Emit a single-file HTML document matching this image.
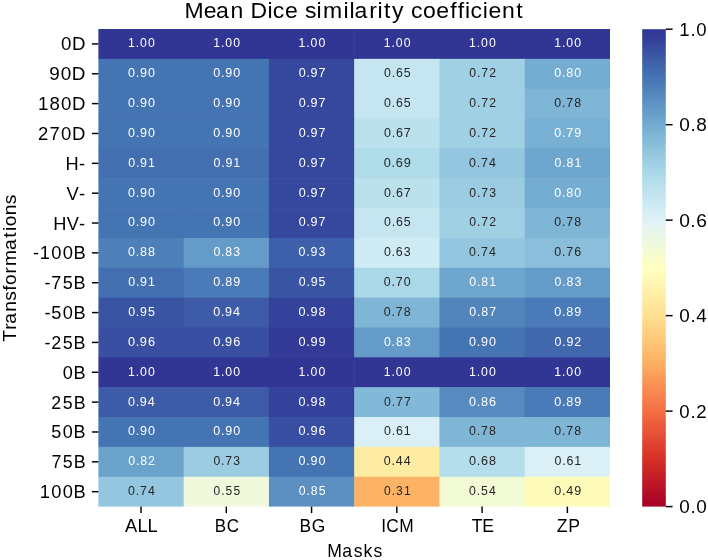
<!DOCTYPE html>
<html><head><meta charset="utf-8"><title>Mean Dice similarity coefficient</title>
<style>
html,body{margin:0;padding:0;background:#fff;}
body{width:708px;height:560px;overflow:hidden;}
svg{display:block;will-change:transform;}
text{font-family:"Liberation Sans",sans-serif;font-kerning:none;font-variant-ligatures:none;white-space:pre;}
</style></head><body>
<svg width="708" height="560" viewBox="0 0 708 560">
<defs><linearGradient id="cb" x1="0" y1="0" x2="0" y2="1"><stop offset="0.0000" stop-color="#313695"/><stop offset="0.0156" stop-color="#333d99"/><stop offset="0.0312" stop-color="#36479e"/><stop offset="0.0469" stop-color="#3a51a2"/><stop offset="0.0625" stop-color="#3d5ba7"/><stop offset="0.0781" stop-color="#4065ac"/><stop offset="0.0938" stop-color="#436fb1"/><stop offset="0.1094" stop-color="#4878b6"/><stop offset="0.1250" stop-color="#4f81ba"/><stop offset="0.1406" stop-color="#578abf"/><stop offset="0.1562" stop-color="#5e93c3"/><stop offset="0.1719" stop-color="#659bc8"/><stop offset="0.1875" stop-color="#6da4cc"/><stop offset="0.2031" stop-color="#74add1"/><stop offset="0.2188" stop-color="#7db4d5"/><stop offset="0.2344" stop-color="#85bbd9"/><stop offset="0.2500" stop-color="#8ec2dc"/><stop offset="0.2656" stop-color="#97c9e0"/><stop offset="0.2812" stop-color="#9fd0e4"/><stop offset="0.2969" stop-color="#a8d6e8"/><stop offset="0.3125" stop-color="#b0dcea"/><stop offset="0.3281" stop-color="#b9e0ed"/><stop offset="0.3438" stop-color="#c1e4ef"/><stop offset="0.3594" stop-color="#c9e8f2"/><stop offset="0.3750" stop-color="#d1ecf4"/><stop offset="0.3906" stop-color="#daf0f6"/><stop offset="0.4062" stop-color="#e1f3f6"/><stop offset="0.4219" stop-color="#e6f5ed"/><stop offset="0.4375" stop-color="#ebf7e4"/><stop offset="0.4531" stop-color="#f0f9db"/><stop offset="0.4688" stop-color="#f5fbd2"/><stop offset="0.4844" stop-color="#fafdc9"/><stop offset="0.5000" stop-color="#feffc0"/><stop offset="0.5156" stop-color="#fffbb9"/><stop offset="0.5312" stop-color="#fff6b1"/><stop offset="0.5469" stop-color="#fff1aa"/><stop offset="0.5625" stop-color="#feeca2"/><stop offset="0.5781" stop-color="#fee79b"/><stop offset="0.5938" stop-color="#fee294"/><stop offset="0.6094" stop-color="#fedc8c"/><stop offset="0.6250" stop-color="#fed485"/><stop offset="0.6406" stop-color="#fecc7e"/><stop offset="0.6562" stop-color="#fdc576"/><stop offset="0.6719" stop-color="#fdbd6f"/><stop offset="0.6875" stop-color="#fdb567"/><stop offset="0.7031" stop-color="#fdad60"/><stop offset="0.7188" stop-color="#fba35c"/><stop offset="0.7344" stop-color="#fa9857"/><stop offset="0.7500" stop-color="#f98e52"/><stop offset="0.7656" stop-color="#f7844e"/><stop offset="0.7812" stop-color="#f67a49"/><stop offset="0.7969" stop-color="#f47044"/><stop offset="0.8125" stop-color="#f16640"/><stop offset="0.8281" stop-color="#ec5c3b"/><stop offset="0.8438" stop-color="#e75337"/><stop offset="0.8594" stop-color="#e34933"/><stop offset="0.8750" stop-color="#de402e"/><stop offset="0.8906" stop-color="#da362a"/><stop offset="0.9062" stop-color="#d42d27"/><stop offset="0.9219" stop-color="#cc2627"/><stop offset="0.9375" stop-color="#c41e27"/><stop offset="0.9531" stop-color="#bd1726"/><stop offset="0.9688" stop-color="#b50f26"/><stop offset="0.9844" stop-color="#ad0826"/><stop offset="1.0000" stop-color="#a50026"/></linearGradient></defs>
<rect x="0" y="0" width="708" height="560" fill="#fff"/>
<g>
<g><rect x="98.40" y="29.00" width="85.87" height="30.45" fill="#313695"/><rect x="183.67" y="29.00" width="85.87" height="30.45" fill="#313695"/><rect x="268.93" y="29.00" width="85.87" height="30.45" fill="#313695"/><rect x="354.20" y="29.00" width="85.87" height="30.45" fill="#313695"/><rect x="439.47" y="29.00" width="85.87" height="30.45" fill="#313695"/><rect x="524.73" y="29.00" width="85.27" height="30.45" fill="#313695"/><rect x="98.40" y="58.85" width="85.87" height="30.45" fill="#4574b3"/><rect x="183.67" y="58.85" width="85.87" height="30.45" fill="#4574b3"/><rect x="268.93" y="58.85" width="85.87" height="30.45" fill="#36479e"/><rect x="354.20" y="58.85" width="85.87" height="30.45" fill="#c5e6f0"/><rect x="439.47" y="58.85" width="85.87" height="30.45" fill="#9fd0e4"/><rect x="524.73" y="58.85" width="85.27" height="30.45" fill="#74add1"/><rect x="98.40" y="88.70" width="85.87" height="30.45" fill="#4574b3"/><rect x="183.67" y="88.70" width="85.87" height="30.45" fill="#4574b3"/><rect x="268.93" y="88.70" width="85.87" height="30.45" fill="#36479e"/><rect x="354.20" y="88.70" width="85.87" height="30.45" fill="#c5e6f0"/><rect x="439.47" y="88.70" width="85.87" height="30.45" fill="#9fd0e4"/><rect x="524.73" y="88.70" width="85.27" height="30.45" fill="#7fb6d6"/><rect x="98.40" y="118.55" width="85.87" height="30.45" fill="#4574b3"/><rect x="183.67" y="118.55" width="85.87" height="30.45" fill="#4574b3"/><rect x="268.93" y="118.55" width="85.87" height="30.45" fill="#36479e"/><rect x="354.20" y="118.55" width="85.87" height="30.45" fill="#bbe1ed"/><rect x="439.47" y="118.55" width="85.87" height="30.45" fill="#9fd0e4"/><rect x="524.73" y="118.55" width="85.27" height="30.45" fill="#78b0d3"/><rect x="98.40" y="148.40" width="85.87" height="30.45" fill="#436fb1"/><rect x="183.67" y="148.40" width="85.87" height="30.45" fill="#436fb1"/><rect x="268.93" y="148.40" width="85.87" height="30.45" fill="#36479e"/><rect x="354.20" y="148.40" width="85.87" height="30.45" fill="#b0dcea"/><rect x="439.47" y="148.40" width="85.87" height="30.45" fill="#94c7df"/><rect x="524.73" y="148.40" width="85.27" height="30.45" fill="#6ea6ce"/><rect x="98.40" y="178.25" width="85.87" height="30.45" fill="#4574b3"/><rect x="183.67" y="178.25" width="85.87" height="30.45" fill="#4574b3"/><rect x="268.93" y="178.25" width="85.87" height="30.45" fill="#36479e"/><rect x="354.20" y="178.25" width="85.87" height="30.45" fill="#bbe1ed"/><rect x="439.47" y="178.25" width="85.87" height="30.45" fill="#9bcce2"/><rect x="524.73" y="178.25" width="85.27" height="30.45" fill="#74add1"/><rect x="98.40" y="208.10" width="85.87" height="30.45" fill="#4574b3"/><rect x="183.67" y="208.10" width="85.87" height="30.45" fill="#4574b3"/><rect x="268.93" y="208.10" width="85.87" height="30.45" fill="#36479e"/><rect x="354.20" y="208.10" width="85.87" height="30.45" fill="#c5e6f0"/><rect x="439.47" y="208.10" width="85.87" height="30.45" fill="#9fd0e4"/><rect x="524.73" y="208.10" width="85.27" height="30.45" fill="#7fb6d6"/><rect x="98.40" y="237.95" width="85.87" height="30.45" fill="#4d7fb9"/><rect x="183.67" y="237.95" width="85.87" height="30.45" fill="#659bc8"/><rect x="268.93" y="237.95" width="85.87" height="30.45" fill="#3e60aa"/><rect x="354.20" y="237.95" width="85.87" height="30.45" fill="#cfebf3"/><rect x="439.47" y="237.95" width="85.87" height="30.45" fill="#94c7df"/><rect x="524.73" y="237.95" width="85.27" height="30.45" fill="#8abeda"/><rect x="98.40" y="267.80" width="85.87" height="30.45" fill="#436fb1"/><rect x="183.67" y="267.80" width="85.87" height="30.45" fill="#4a7ab7"/><rect x="268.93" y="267.80" width="85.87" height="30.45" fill="#3a54a4"/><rect x="354.20" y="267.80" width="85.87" height="30.45" fill="#aad8e9"/><rect x="439.47" y="267.80" width="85.87" height="30.45" fill="#6ea6ce"/><rect x="524.73" y="267.80" width="85.27" height="30.45" fill="#659bc8"/><rect x="98.40" y="297.65" width="85.87" height="30.45" fill="#3a54a4"/><rect x="183.67" y="297.65" width="85.87" height="30.45" fill="#3d5ba7"/><rect x="268.93" y="297.65" width="85.87" height="30.45" fill="#35429b"/><rect x="354.20" y="297.65" width="85.87" height="30.45" fill="#7fb6d6"/><rect x="439.47" y="297.65" width="85.87" height="30.45" fill="#5385bd"/><rect x="524.73" y="297.65" width="85.27" height="30.45" fill="#4a7ab7"/><rect x="98.40" y="327.50" width="85.87" height="30.45" fill="#394fa1"/><rect x="183.67" y="327.50" width="85.87" height="30.45" fill="#394fa1"/><rect x="268.93" y="327.50" width="85.87" height="30.45" fill="#333b97"/><rect x="354.20" y="327.50" width="85.87" height="30.45" fill="#659bc8"/><rect x="439.47" y="327.50" width="85.87" height="30.45" fill="#4574b3"/><rect x="524.73" y="327.50" width="85.27" height="30.45" fill="#4167ad"/><rect x="98.40" y="357.35" width="85.87" height="30.45" fill="#313695"/><rect x="183.67" y="357.35" width="85.87" height="30.45" fill="#313695"/><rect x="268.93" y="357.35" width="85.87" height="30.45" fill="#313695"/><rect x="354.20" y="357.35" width="85.87" height="30.45" fill="#313695"/><rect x="439.47" y="357.35" width="85.87" height="30.45" fill="#313695"/><rect x="524.73" y="357.35" width="85.27" height="30.45" fill="#313695"/><rect x="98.40" y="387.20" width="85.87" height="30.45" fill="#3d5ba7"/><rect x="183.67" y="387.20" width="85.87" height="30.45" fill="#3d5ba7"/><rect x="268.93" y="387.20" width="85.87" height="30.45" fill="#35429b"/><rect x="354.20" y="387.20" width="85.87" height="30.45" fill="#83b9d8"/><rect x="439.47" y="387.20" width="85.87" height="30.45" fill="#578abf"/><rect x="524.73" y="387.20" width="85.27" height="30.45" fill="#4a7ab7"/><rect x="98.40" y="417.05" width="85.87" height="30.45" fill="#4574b3"/><rect x="183.67" y="417.05" width="85.87" height="30.45" fill="#4574b3"/><rect x="268.93" y="417.05" width="85.87" height="30.45" fill="#394fa1"/><rect x="354.20" y="417.05" width="85.87" height="30.45" fill="#daf0f6"/><rect x="439.47" y="417.05" width="85.87" height="30.45" fill="#7fb6d6"/><rect x="524.73" y="417.05" width="85.27" height="30.45" fill="#7fb6d6"/><rect x="98.40" y="446.90" width="85.87" height="30.45" fill="#6ba2cb"/><rect x="183.67" y="446.90" width="85.87" height="30.45" fill="#9bcce2"/><rect x="268.93" y="446.90" width="85.87" height="30.45" fill="#4574b3"/><rect x="354.20" y="446.90" width="85.87" height="30.45" fill="#feeca2"/><rect x="439.47" y="446.90" width="85.87" height="30.45" fill="#b4deec"/><rect x="524.73" y="446.90" width="85.27" height="30.45" fill="#daf0f6"/><rect x="98.40" y="476.75" width="85.87" height="29.85" fill="#94c7df"/><rect x="183.67" y="476.75" width="85.87" height="29.85" fill="#f0f9db"/><rect x="268.93" y="476.75" width="85.87" height="29.85" fill="#5c90c2"/><rect x="354.20" y="476.75" width="85.87" height="29.85" fill="#fdb366"/><rect x="439.47" y="476.75" width="85.87" height="29.85" fill="#f2fad6"/><rect x="524.73" y="476.75" width="85.27" height="29.85" fill="#fffcba"/></g>
<rect x="642.2" y="29.2" width="23.60" height="477.40" fill="url(#cb)"/>
<g stroke="#000" stroke-width="1.45"><line x1="91.90" y1="43.92" x2="98.40" y2="43.92"/><line x1="91.90" y1="73.78" x2="98.40" y2="73.78"/><line x1="91.90" y1="103.62" x2="98.40" y2="103.62"/><line x1="91.90" y1="133.48" x2="98.40" y2="133.48"/><line x1="91.90" y1="163.33" x2="98.40" y2="163.33"/><line x1="91.90" y1="193.18" x2="98.40" y2="193.18"/><line x1="91.90" y1="223.03" x2="98.40" y2="223.03"/><line x1="91.90" y1="252.88" x2="98.40" y2="252.88"/><line x1="91.90" y1="282.73" x2="98.40" y2="282.73"/><line x1="91.90" y1="312.57" x2="98.40" y2="312.57"/><line x1="91.90" y1="342.43" x2="98.40" y2="342.43"/><line x1="91.90" y1="372.28" x2="98.40" y2="372.28"/><line x1="91.90" y1="402.12" x2="98.40" y2="402.12"/><line x1="91.90" y1="431.98" x2="98.40" y2="431.98"/><line x1="91.90" y1="461.83" x2="98.40" y2="461.83"/><line x1="91.90" y1="491.68" x2="98.40" y2="491.68"/><line x1="141.03" y1="506.60" x2="141.03" y2="513.10"/><line x1="226.30" y1="506.60" x2="226.30" y2="513.10"/><line x1="311.57" y1="506.60" x2="311.57" y2="513.10"/><line x1="396.83" y1="506.60" x2="396.83" y2="513.10"/><line x1="482.10" y1="506.60" x2="482.10" y2="513.10"/><line x1="567.37" y1="506.60" x2="567.37" y2="513.10"/><line x1="665.80" y1="506.60" x2="672.60" y2="506.60"/><line x1="665.80" y1="411.12" x2="672.60" y2="411.12"/><line x1="665.80" y1="315.64" x2="672.60" y2="315.64"/><line x1="665.80" y1="220.16" x2="672.60" y2="220.16"/><line x1="665.80" y1="124.68" x2="672.60" y2="124.68"/><line x1="665.80" y1="29.20" x2="672.60" y2="29.20"/></g>
</g>
<g>
<text transform="matrix(1.0177,0,0,1,0,0)" x="181.40 200.20 212.35 226.38 239.33 246.07 262.78 268.13 280.12 292.87 299.61 311.06 317.44 337.54 343.41 348.25 362.81 370.96 377.35 385.30 397.22 403.85 415.77 428.78 442.39 449.83 456.87 462.22 474.38 480.08 493.30 507.19" y="18" font-size="22.6" fill="#000">Mean Dice similarity coefficient</text>
<text transform="matrix(0.9374,0,0,1,0,0)" x="349.18 365.17 377.35 387.91 398.35" y="557" font-size="18.8" fill="#000">Masks</text>
<text transform="matrix(0.9708,0,0,1,0,0)" x="128.78 141.67 151.94" y="532" font-size="18.8" fill="#000">ALL</text>
<text transform="matrix(0.9027,0,0,1,0,0)" x="238.04 251.15" y="532" font-size="18.8" fill="#000">BC</text>
<text transform="matrix(0.9270,0,0,1,0,0)" x="323.12 336.18" y="532" font-size="18.8" fill="#000">BG</text>
<text transform="matrix(0.9235,0,0,1,0,0)" x="412.92 418.27 432.46" y="532" font-size="18.8" fill="#000">ICM</text>
<text transform="matrix(0.9341,0,0,1,0,0)" x="504.95 516.28" y="532" font-size="18.8" fill="#000">TE</text>
<text transform="matrix(0.9396,0,0,1,0,0)" x="592.64 604.72" y="532" font-size="18.8" fill="#000">ZP</text>
<text transform="matrix(0.9934,0,0,1,0,0)" x="61.29 72.43" y="50" font-size="18.8" fill="#000">0D</text>
<text transform="matrix(1.0064,0,0,1,0,0)" x="49.05 60.42 71.40" y="80" font-size="18.8" fill="#000">90D</text>
<text transform="matrix(0.9908,0,0,1,0,0)" x="38.38 49.97 61.46 72.64" y="110" font-size="18.8" fill="#000">180D</text>
<text transform="matrix(0.9848,0,0,1,0,0)" x="38.50 50.27 61.87 73.13" y="140" font-size="18.8" fill="#000">270D</text>
<text transform="matrix(0.9712,0,0,1,0,0)" x="67.53 81.45" y="170" font-size="18.8" fill="#000">H-</text>
<text transform="matrix(0.9825,0,0,1,0,0)" x="67.81 80.48" y="200" font-size="18.8" fill="#000">V-</text>
<text transform="matrix(0.9690,0,0,1,0,0)" x="55.06 68.85 81.64" y="230" font-size="18.8" fill="#000">HV-</text>
<text transform="matrix(0.9779,0,0,1,0,0)" x="33.78 40.71 52.45 64.09 75.13" y="259" font-size="18.8" fill="#000">-100B</text>
<text transform="matrix(0.9609,0,0,1,0,0)" x="46.28 53.43 65.25 76.58" y="289" font-size="18.8" fill="#000">-75B</text>
<text transform="matrix(0.9672,0,0,1,0,0)" x="45.96 53.01 64.86 76.04" y="319" font-size="18.8" fill="#000">-50B</text>
<text transform="matrix(0.9570,0,0,1,0,0)" x="46.48 53.46 65.53 76.91" y="349" font-size="18.8" fill="#000">-25B</text>
<text transform="matrix(0.9623,0,0,1,0,0)" x="65.22 76.46" y="379" font-size="18.8" fill="#000">0B</text>
<text transform="matrix(0.9454,0,0,1,0,0)" x="54.18 66.40 77.94" y="409" font-size="18.8" fill="#000">25B</text>
<text transform="matrix(0.9575,0,0,1,0,0)" x="53.61 65.57 76.88" y="438" font-size="18.8" fill="#000">50B</text>
<text transform="matrix(0.9499,0,0,1,0,0)" x="54.11 66.06 77.54" y="468" font-size="18.8" fill="#000">75B</text>
<text transform="matrix(0.9717,0,0,1,0,0)" x="41.00 52.81 64.53 75.65" y="498" font-size="18.8" fill="#000">100B</text>
<text transform="matrix(1.0061,0,0,1,0,0)" x="675.13 686.22 692.10" y="513" font-size="18.8" fill="#000">0.0</text>
<text transform="matrix(0.9901,0,0,1,0,0)" x="686.12 697.35 703.13" y="418" font-size="18.8" fill="#000">0.2</text>
<text transform="matrix(1.0061,0,0,1,0,0)" x="675.13 686.23 692.10" y="322" font-size="18.8" fill="#000">0.4</text>
<text transform="matrix(1.0218,0,0,1,0,0)" x="664.68 675.65 681.39" y="227" font-size="18.8" fill="#000">0.6</text>
<text transform="matrix(1.0110,0,0,1,0,0)" x="671.82 682.88 688.71" y="131" font-size="18.8" fill="#000">0.8</text>
<text transform="matrix(0.9868,0,0,1,0,0)" x="688.29 699.65 705.69" y="36" font-size="18.8" fill="#000">1.0</text>
<text transform="matrix(0.9040,0,0,1,0,0)" x="141.59 150.16 154.89 163.73" y="47" font-size="13.6" fill="#ffffff">1.00</text>
<text transform="matrix(0.9040,0,0,1,0,0)" x="235.91 244.48 249.21 258.05" y="47" font-size="13.6" fill="#ffffff">1.00</text>
<text transform="matrix(0.9040,0,0,1,0,0)" x="330.23 338.80 343.54 352.37" y="47" font-size="13.6" fill="#ffffff">1.00</text>
<text transform="matrix(0.9040,0,0,1,0,0)" x="424.55 433.12 437.86 446.69" y="47" font-size="13.6" fill="#ffffff">1.00</text>
<text transform="matrix(0.9040,0,0,1,0,0)" x="518.87 527.45 532.18 541.01" y="47" font-size="13.6" fill="#ffffff">1.00</text>
<text transform="matrix(0.9040,0,0,1,0,0)" x="613.20 621.77 626.50 635.33" y="47" font-size="13.6" fill="#ffffff">1.00</text>
<text transform="matrix(0.9251,0,0,1,0,0)" x="138.33 146.69 151.23 159.91" y="77" font-size="13.6" fill="#ffffff">0.90</text>
<text transform="matrix(0.9251,0,0,1,0,0)" x="230.50 238.86 243.40 252.08" y="77" font-size="13.6" fill="#ffffff">0.90</text>
<text transform="matrix(0.9192,0,0,1,0,0)" x="324.91 333.31 337.89 346.59" y="77" font-size="13.6" fill="#ffffff">0.97</text>
<text transform="matrix(0.9095,0,0,1,0,0)" x="422.15 430.62 435.32 444.04" y="77" font-size="13.6" fill="#262626">0.65</text>
<text transform="matrix(0.8997,0,0,1,0,0)" x="521.67 530.22 534.95 543.67" y="77" font-size="13.6" fill="#262626">0.72</text>
<text transform="matrix(0.9190,0,0,1,0,0)" x="603.21 611.61 616.24 624.93" y="77" font-size="13.6" fill="#ffffff">0.80</text>
<text transform="matrix(0.9251,0,0,1,0,0)" x="138.33 146.69 151.23 159.91" y="107" font-size="13.6" fill="#ffffff">0.90</text>
<text transform="matrix(0.9251,0,0,1,0,0)" x="230.50 238.86 243.40 252.08" y="107" font-size="13.6" fill="#ffffff">0.90</text>
<text transform="matrix(0.9192,0,0,1,0,0)" x="324.91 333.31 337.89 346.59" y="107" font-size="13.6" fill="#ffffff">0.97</text>
<text transform="matrix(0.9095,0,0,1,0,0)" x="422.15 430.62 435.32 444.04" y="107" font-size="13.6" fill="#262626">0.65</text>
<text transform="matrix(0.8997,0,0,1,0,0)" x="521.67 530.22 534.95 543.67" y="107" font-size="13.6" fill="#262626">0.72</text>
<text transform="matrix(0.9130,0,0,1,0,0)" x="607.20 615.65 620.29 629.06" y="107" font-size="13.6" fill="#262626">0.78</text>
<text transform="matrix(0.9251,0,0,1,0,0)" x="138.33 146.69 151.23 159.91" y="137" font-size="13.6" fill="#ffffff">0.90</text>
<text transform="matrix(0.9251,0,0,1,0,0)" x="230.50 238.86 243.40 252.08" y="137" font-size="13.6" fill="#ffffff">0.90</text>
<text transform="matrix(0.9192,0,0,1,0,0)" x="324.91 333.31 337.89 346.59" y="137" font-size="13.6" fill="#ffffff">0.97</text>
<text transform="matrix(0.9198,0,0,1,0,0)" x="417.40 425.80 430.42 439.08" y="137" font-size="13.6" fill="#262626">0.67</text>
<text transform="matrix(0.8997,0,0,1,0,0)" x="521.67 530.22 534.95 543.67" y="137" font-size="13.6" fill="#262626">0.72</text>
<text transform="matrix(0.9192,0,0,1,0,0)" x="603.10 611.50 616.10 624.77" y="137" font-size="13.6" fill="#ffffff">0.79</text>
<text transform="matrix(0.9134,0,0,1,0,0)" x="140.34 148.78 153.40 162.13" y="167" font-size="13.6" fill="#ffffff">0.91</text>
<text transform="matrix(0.9134,0,0,1,0,0)" x="233.69 242.14 246.76 255.48" y="167" font-size="13.6" fill="#ffffff">0.91</text>
<text transform="matrix(0.9192,0,0,1,0,0)" x="324.91 333.31 337.89 346.59" y="167" font-size="13.6" fill="#ffffff">0.97</text>
<text transform="matrix(0.9351,0,0,1,0,0)" x="410.41 418.70 423.21 431.71" y="167" font-size="13.6" fill="#262626">0.69</text>
<text transform="matrix(0.9100,0,0,1,0,0)" x="515.41 523.88 528.54 537.34" y="167" font-size="13.6" fill="#262626">0.74</text>
<text transform="matrix(0.9071,0,0,1,0,0)" x="611.33 619.82 624.53 633.27" y="167" font-size="13.6" fill="#ffffff">0.81</text>
<text transform="matrix(0.9251,0,0,1,0,0)" x="138.33 146.69 151.23 159.91" y="197" font-size="13.6" fill="#ffffff">0.90</text>
<text transform="matrix(0.9251,0,0,1,0,0)" x="230.50 238.86 243.40 252.08" y="197" font-size="13.6" fill="#ffffff">0.90</text>
<text transform="matrix(0.9192,0,0,1,0,0)" x="324.91 333.31 337.89 346.59" y="197" font-size="13.6" fill="#ffffff">0.97</text>
<text transform="matrix(0.9198,0,0,1,0,0)" x="417.40 425.80 430.42 439.08" y="197" font-size="13.6" fill="#262626">0.67</text>
<text transform="matrix(0.8984,0,0,1,0,0)" x="522.26 530.81 535.56 544.49" y="197" font-size="13.6" fill="#262626">0.73</text>
<text transform="matrix(0.9190,0,0,1,0,0)" x="603.21 611.61 616.24 624.93" y="197" font-size="13.6" fill="#ffffff">0.80</text>
<text transform="matrix(0.9251,0,0,1,0,0)" x="138.33 146.69 151.23 159.91" y="226" font-size="13.6" fill="#ffffff">0.90</text>
<text transform="matrix(0.9251,0,0,1,0,0)" x="230.50 238.86 243.40 252.08" y="226" font-size="13.6" fill="#ffffff">0.90</text>
<text transform="matrix(0.9192,0,0,1,0,0)" x="324.91 333.31 337.89 346.59" y="226" font-size="13.6" fill="#ffffff">0.97</text>
<text transform="matrix(0.9095,0,0,1,0,0)" x="422.15 430.62 435.32 444.04" y="226" font-size="13.6" fill="#262626">0.65</text>
<text transform="matrix(0.8997,0,0,1,0,0)" x="521.67 530.22 534.95 543.67" y="226" font-size="13.6" fill="#262626">0.72</text>
<text transform="matrix(0.9130,0,0,1,0,0)" x="607.20 615.65 620.29 629.06" y="226" font-size="13.6" fill="#262626">0.78</text>
<text transform="matrix(0.9221,0,0,1,0,0)" x="138.81 147.19 151.80 160.46" y="256" font-size="13.6" fill="#ffffff">0.88</text>
<text transform="matrix(0.9076,0,0,1,0,0)" x="235.10 243.59 248.29 257.11" y="256" font-size="13.6" fill="#ffffff">0.83</text>
<text transform="matrix(0.9137,0,0,1,0,0)" x="326.83 335.27 339.89 348.69" y="256" font-size="13.6" fill="#ffffff">0.93</text>
<text transform="matrix(0.9143,0,0,1,0,0)" x="419.88 428.31 432.98 441.72" y="256" font-size="13.6" fill="#262626">0.63</text>
<text transform="matrix(0.9100,0,0,1,0,0)" x="515.41 523.88 528.54 537.34" y="256" font-size="13.6" fill="#262626">0.74</text>
<text transform="matrix(0.9198,0,0,1,0,0)" x="602.66 611.06 615.65 624.36" y="256" font-size="13.6" fill="#262626">0.76</text>
<text transform="matrix(0.9134,0,0,1,0,0)" x="140.34 148.78 153.40 162.13" y="286" font-size="13.6" fill="#ffffff">0.91</text>
<text transform="matrix(0.9282,0,0,1,0,0)" x="229.73 238.07 242.63 251.19" y="286" font-size="13.6" fill="#ffffff">0.89</text>
<text transform="matrix(0.9090,0,0,1,0,0)" x="328.61 337.09 341.74 350.52" y="286" font-size="13.6" fill="#ffffff">0.95</text>
<text transform="matrix(0.9099,0,0,1,0,0)" x="421.83 430.30 434.97 443.77" y="286" font-size="13.6" fill="#262626">0.70</text>
<text transform="matrix(0.9071,0,0,1,0,0)" x="517.33 525.82 530.53 539.27" y="286" font-size="13.6" fill="#ffffff">0.81</text>
<text transform="matrix(0.9076,0,0,1,0,0)" x="610.87 619.36 624.07 632.88" y="286" font-size="13.6" fill="#ffffff">0.83</text>
<text transform="matrix(0.9090,0,0,1,0,0)" x="141.00 149.47 154.13 162.90" y="316" font-size="13.6" fill="#ffffff">0.95</text>
<text transform="matrix(0.9249,0,0,1,0,0)" x="230.47 238.83 243.37 252.05" y="316" font-size="13.6" fill="#ffffff">0.94</text>
<text transform="matrix(0.9282,0,0,1,0,0)" x="321.58 329.92 334.44 343.08" y="316" font-size="13.6" fill="#ffffff">0.98</text>
<text transform="matrix(0.9130,0,0,1,0,0)" x="420.41 428.86 433.50 442.27" y="316" font-size="13.6" fill="#262626">0.78</text>
<text transform="matrix(0.9130,0,0,1,0,0)" x="513.92 522.37 527.04 535.76" y="316" font-size="13.6" fill="#ffffff">0.87</text>
<text transform="matrix(0.9282,0,0,1,0,0)" x="597.17 605.51 610.07 618.63" y="316" font-size="13.6" fill="#ffffff">0.89</text>
<text transform="matrix(0.9351,0,0,1,0,0)" x="136.79 145.08 149.56 158.14" y="346" font-size="13.6" fill="#ffffff">0.96</text>
<text transform="matrix(0.9351,0,0,1,0,0)" x="227.98 236.27 240.74 249.33" y="346" font-size="13.6" fill="#ffffff">0.96</text>
<text transform="matrix(0.9345,0,0,1,0,0)" x="319.42 327.72 332.19 340.74" y="346" font-size="13.6" fill="#ffffff">0.99</text>
<text transform="matrix(0.9076,0,0,1,0,0)" x="422.99 431.47 436.18 444.99" y="346" font-size="13.6" fill="#ffffff">0.83</text>
<text transform="matrix(0.9251,0,0,1,0,0)" x="507.02 515.38 519.92 528.59" y="346" font-size="13.6" fill="#ffffff">0.90</text>
<text transform="matrix(0.9152,0,0,1,0,0)" x="605.96 614.39 619.00 627.59" y="346" font-size="13.6" fill="#ffffff">0.92</text>
<text transform="matrix(0.9040,0,0,1,0,0)" x="141.59 150.16 154.89 163.73" y="376" font-size="13.6" fill="#ffffff">1.00</text>
<text transform="matrix(0.9040,0,0,1,0,0)" x="235.91 244.48 249.21 258.05" y="376" font-size="13.6" fill="#ffffff">1.00</text>
<text transform="matrix(0.9040,0,0,1,0,0)" x="330.23 338.80 343.54 352.37" y="376" font-size="13.6" fill="#ffffff">1.00</text>
<text transform="matrix(0.9040,0,0,1,0,0)" x="424.55 433.12 437.86 446.69" y="376" font-size="13.6" fill="#ffffff">1.00</text>
<text transform="matrix(0.9040,0,0,1,0,0)" x="518.87 527.45 532.18 541.01" y="376" font-size="13.6" fill="#ffffff">1.00</text>
<text transform="matrix(0.9040,0,0,1,0,0)" x="613.20 621.77 626.50 635.33" y="376" font-size="13.6" fill="#ffffff">1.00</text>
<text transform="matrix(0.9249,0,0,1,0,0)" x="138.28 146.65 151.19 159.86" y="406" font-size="13.6" fill="#ffffff">0.94</text>
<text transform="matrix(0.9249,0,0,1,0,0)" x="230.47 238.83 243.37 252.05" y="406" font-size="13.6" fill="#ffffff">0.94</text>
<text transform="matrix(0.9282,0,0,1,0,0)" x="321.58 329.92 334.44 343.08" y="406" font-size="13.6" fill="#ffffff">0.98</text>
<text transform="matrix(0.9037,0,0,1,0,0)" x="424.88 433.39 438.10 446.94" y="406" font-size="13.6" fill="#262626">0.77</text>
<text transform="matrix(0.9288,0,0,1,0,0)" x="504.94 513.28 517.83 526.43" y="406" font-size="13.6" fill="#ffffff">0.86</text>
<text transform="matrix(0.9282,0,0,1,0,0)" x="597.17 605.51 610.07 618.63" y="406" font-size="13.6" fill="#ffffff">0.89</text>
<text transform="matrix(0.9251,0,0,1,0,0)" x="138.33 146.69 151.23 159.91" y="435" font-size="13.6" fill="#ffffff">0.90</text>
<text transform="matrix(0.9251,0,0,1,0,0)" x="230.50 238.86 243.40 252.08" y="435" font-size="13.6" fill="#ffffff">0.90</text>
<text transform="matrix(0.9351,0,0,1,0,0)" x="319.17 327.46 331.93 340.52" y="435" font-size="13.6" fill="#ffffff">0.96</text>
<text transform="matrix(0.9139,0,0,1,0,0)" x="420.13 428.57 433.23 441.90" y="435" font-size="13.6" fill="#262626">0.61</text>
<text transform="matrix(0.9130,0,0,1,0,0)" x="513.81 522.25 526.90 535.67" y="435" font-size="13.6" fill="#262626">0.78</text>
<text transform="matrix(0.9130,0,0,1,0,0)" x="607.20 615.65 620.29 629.06" y="435" font-size="13.6" fill="#262626">0.78</text>
<text transform="matrix(0.9090,0,0,1,0,0)" x="141.08 149.56 154.25 162.86" y="465" font-size="13.6" fill="#ffffff">0.82</text>
<text transform="matrix(0.8984,0,0,1,0,0)" x="237.55 246.10 250.85 259.78" y="465" font-size="13.6" fill="#262626">0.73</text>
<text transform="matrix(0.9251,0,0,1,0,0)" x="322.68 331.04 335.58 344.25" y="465" font-size="13.6" fill="#ffffff">0.90</text>
<text transform="matrix(0.9159,0,0,1,0,0)" x="418.97 427.39 432.04 440.76" y="465" font-size="13.6" fill="#262626">0.44</text>
<text transform="matrix(0.9288,0,0,1,0,0)" x="504.98 513.31 517.87 526.47" y="465" font-size="13.6" fill="#262626">0.68</text>
<text transform="matrix(0.9139,0,0,1,0,0)" x="606.72 615.16 619.82 628.49" y="465" font-size="13.6" fill="#262626">0.61</text>
<text transform="matrix(0.9100,0,0,1,0,0)" x="140.62 149.08 153.75 162.54" y="495" font-size="13.6" fill="#262626">0.74</text>
<text transform="matrix(0.8839,0,0,1,0,0)" x="241.58 250.25 255.07 264.11" y="495" font-size="13.6" fill="#262626">0.55</text>
<text transform="matrix(0.9029,0,0,1,0,0)" x="330.85 339.37 344.11 352.90" y="495" font-size="13.6" fill="#ffffff">0.85</text>
<text transform="matrix(0.8923,0,0,1,0,0)" x="430.39 438.99 443.82 452.69" y="495" font-size="13.6" fill="#262626">0.31</text>
<text transform="matrix(0.9002,0,0,1,0,0)" x="521.07 529.61 534.32 543.24" y="495" font-size="13.6" fill="#262626">0.54</text>
<text transform="matrix(0.9249,0,0,1,0,0)" x="599.31 607.67 612.25 620.85" y="495" font-size="13.6" fill="#262626">0.49</text>
<text transform="translate(16.00,268.60) rotate(-90) matrix(1.0222,0,0,1,0,0)" x="-71.62 -59.74 -53.87 -42.25 -31.52 -21.70 -16.09 -4.71 2.43 18.21 30.25 36.70 41.34 52.28 63.01" y="0" font-size="18.8" fill="#000">Transformations</text>
</g>
</svg>
</body></html>
